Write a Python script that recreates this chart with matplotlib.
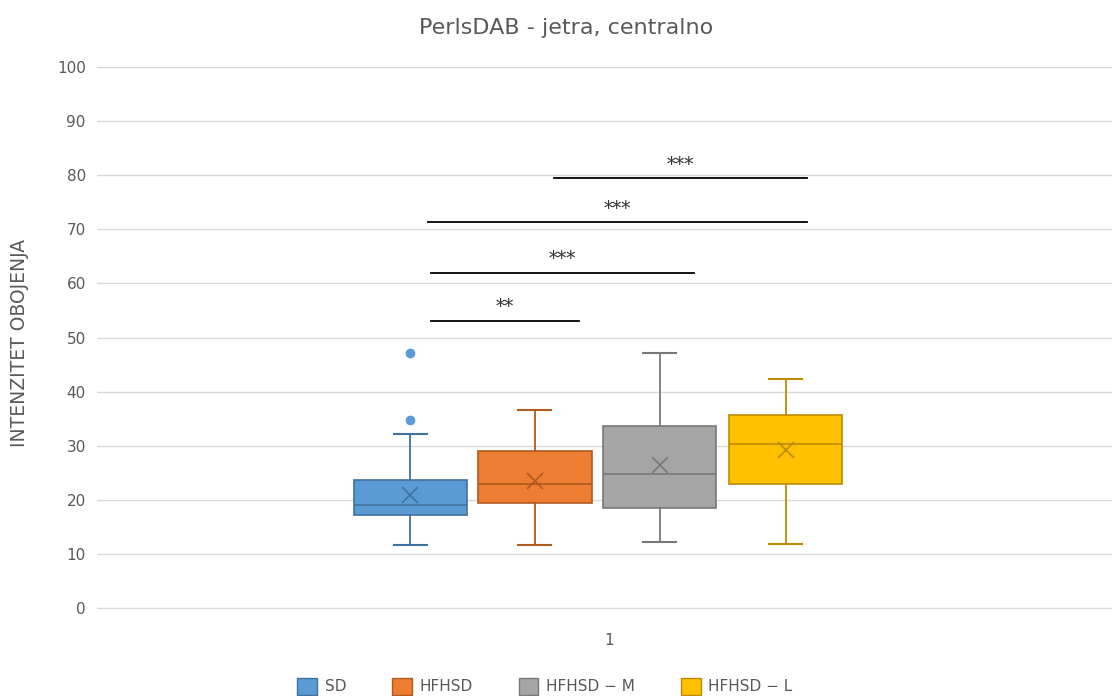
import matplotlib.pyplot as plt
from matplotlib.patches import Patch

# box statistics
groups = ['SD', 'HFHSD', 'HFHSD − M', 'HFHSD − L']
whislo = [11.6, 11.6, 12.2, 11.9]
q1 = [17.2, 19.4, 18.5, 22.9]
med = [19.1, 22.9, 24.8, 30.3]
q3 = [23.6, 29.0, 33.7, 35.7]
whishi = [32.2, 36.6, 47.1, 42.3]
means = [20.8, 23.5, 26.4, 29.3]
fliers = [[47.1, 34.7], [], [], []]

# significance bars: (x start, x end, y level, label)
sig_x0 = [0.658, 0.658, 0.652, 0.900]
sig_x1 = [0.950, 1.176, 1.399, 1.399]
sig_y = [53.1, 62.0, 71.3, 79.5]
sig_lab = ['**', '***', '***', '***']

fills = ['#5B9BD5', '#ED7D31', '#A5A5A5', '#FFC000']
edges = ['#41719C', '#AE5A21', '#787878', '#BC8C00']
positions = [0.617, 0.863, 1.109, 1.357]

fig = plt.figure(figsize=(11.12, 6.96), dpi=100)
ax = fig.add_axes([0.0872, 0.1264, 0.9128, 0.7773])

for i in range(len(groups)):
    st = [dict(whislo=whislo[i], q1=q1[i], med=med[i], q3=q3[i],
               whishi=whishi[i], mean=means[i], fliers=fliers[i])]
    ax.bxp(st, positions=[positions[i]], widths=0.223, capwidths=0.065,
           patch_artist=True, showmeans=True, manage_ticks=False,
           boxprops=dict(facecolor=fills[i], edgecolor=edges[i], linewidth=1.2),
           medianprops=dict(color=edges[i], linewidth=1.2),
           whiskerprops=dict(color=edges[i], linewidth=1.3),
           capprops=dict(color=edges[i], linewidth=1.5),
           meanprops=dict(marker='x', markeredgecolor=edges[i],
                          markersize=12, markeredgewidth=1.2),
           flierprops=dict(marker='o', markerfacecolor=fills[i],
                           markeredgecolor=fills[i], markersize=6))

for x0, x1, y, lab in zip(sig_x0, sig_x1, sig_y, sig_lab):
    ax.plot([x0, x1], [y, y], color='black', linewidth=1.3)
    ax.text((x0 + x1) / 2, y + 0.8, lab, ha='center', va='bottom',
            fontsize=13, color='#333333', family='DejaVu Serif')

ax.set_xlim(0, 2)
ax.set_ylim(0, 100)
ax.set_yticks(range(0, 101, 10))
ax.set_xticks([1.01])
ax.set_xticklabels(['1'])
ax.yaxis.grid(True, color='#D9D9D9', linewidth=1)
ax.set_axisbelow(True)
for s in ['top', 'right', 'left']:
    ax.spines[s].set_visible(False)
ax.spines['bottom'].set_color('#D9D9D9')
ax.tick_params(length=0, labelsize=11, colors='#595959', pad=8)
ax.tick_params(axis='x', pad=18)

ax.set_ylabel('INTENZITET OBOJENJA', fontsize=13.5, color='#595959')
ax.yaxis.set_label_coords(-0.067, 0.49)
fig.text(0.509, 0.96, 'PerlsDAB - jetra, centralno', ha='center', va='center',
         fontsize=16, color='#595959')

handles = [Patch(facecolor=f, edgecolor=e) for f, e in zip(fills, edges)]
leg = fig.legend(handles, groups, loc='center', bbox_to_anchor=(0.49, 0.014),
                 ncol=4, frameon=False, fontsize=11, handlelength=1.3,
                 handleheight=1.3, columnspacing=3.0, handletextpad=0.5)
for t in leg.get_texts():
    t.set_color('#595959')

fig.savefig('out.png', dpi=100)
